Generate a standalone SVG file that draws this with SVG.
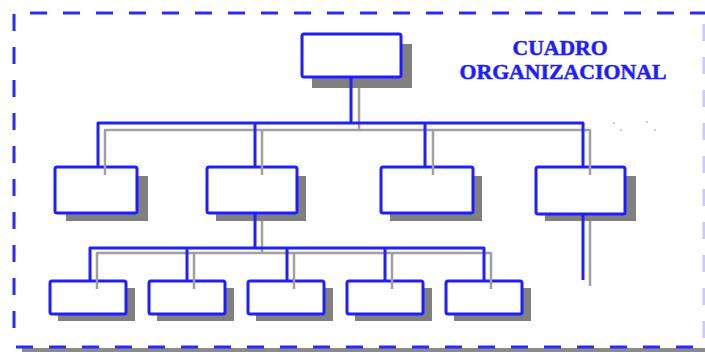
<svg xmlns="http://www.w3.org/2000/svg" width="705" height="356" viewBox="0 0 705 356">
  <style>
    .frame { fill: none; stroke: #2a2aff; stroke-width: 3; stroke-dasharray: 17 16; }
    .frame-shadow { fill: none; stroke: #8a8a8a; stroke-width: 4; }
    .box { fill: #ffffff; stroke: #1e1eff; stroke-width: 3; }
    .shadow { fill: #808080; }
    .link { fill: none; stroke: #2020ff; stroke-width: 3; stroke-linejoin: round; }
    .link-shadow { fill: none; stroke: #a0a0a0; stroke-width: 2.5; stroke-linejoin: round; }
    .title { font-family: "Liberation Serif", "Times New Roman", serif; font-weight: bold; font-size: 21px; fill: #1e1eff; stroke: #1e1eff; stroke-width: 0.5; text-anchor: middle; }
  </style>

  <!-- dashed frame -->
  <line class="frame-shadow" x1="22" y1="350" x2="705" y2="350"/>
  <line class="frame" x1="30" y1="13" x2="705" y2="13"/>
  <line class="frame" x1="14" y1="14" x2="14" y2="340"/>
  <line class="frame" x1="16" y1="347" x2="705" y2="347"/>
  <line class="frame" x1="704" y1="24" x2="704" y2="340" stroke-opacity="0.25"/>

  <!-- title -->
  <g id="title">
    <text class="title" x="560" y="55" textLength="95" lengthAdjust="spacingAndGlyphs">CUADRO</text>
    <text class="title" x="563" y="79" textLength="207" lengthAdjust="spacingAndGlyphs">ORGANIZACIONAL</text>
  </g>

  <!-- box shadows -->
  <g id="shadows">
    <rect class="shadow" x="312" y="44" width="100" height="44"/>
    <rect class="shadow" x="66" y="176" width="82" height="45"/>
    <rect class="shadow" x="216" y="176" width="90" height="45"/>
    <rect class="shadow" x="390" y="176" width="92" height="45"/>
    <rect class="shadow" x="545" y="176" width="91" height="45"/>
    <rect class="shadow" x="58" y="288" width="77" height="33"/>
    <rect class="shadow" x="157" y="288" width="77" height="33"/>
    <rect class="shadow" x="256" y="288" width="77" height="33"/>
    <rect class="shadow" x="355" y="288" width="77" height="33"/>
    <rect class="shadow" x="454" y="288" width="77" height="33"/>
  </g>

  <!-- nodes -->
  <g id="top">
    <rect class="box" x="302" y="34" width="99" height="43" rx="2"/>
  </g>
  <g id="unit-1">
    <rect class="box" x="55" y="167" width="82" height="46" rx="2"/>
  </g>
  <g id="unit-2">
    <rect class="box" x="207" y="167" width="90" height="46" rx="2"/>
  </g>
  <g id="unit-3">
    <rect class="box" x="381" y="167" width="92" height="46" rx="2"/>
  </g>
  <g id="unit-4">
    <rect class="box" x="536" y="167" width="89" height="47" rx="2"/>
  </g>
  <g id="sub-1">
    <rect class="box" x="50" y="281" width="76" height="33" rx="2"/>
  </g>
  <g id="sub-2">
    <rect class="box" x="149" y="281" width="76" height="33" rx="2"/>
  </g>
  <g id="sub-3">
    <rect class="box" x="248" y="281" width="76" height="33" rx="2"/>
  </g>
  <g id="sub-4">
    <rect class="box" x="347" y="281" width="76" height="33" rx="2"/>
  </g>
  <g id="sub-5">
    <rect class="box" x="446" y="281" width="76" height="33" rx="2"/>
  </g>

  <!-- connectors -->
  <g id="connectors">
    <!-- shadow lines -->
    <path class="link-shadow" d="M359 88 V130 M105 175 V130 H590 V175 M262 130 V175 M433 130 V175"/>
    <path class="link-shadow" d="M590 221 V286"/>
    <path class="link-shadow" d="M262 221 V253 M97 289 V253 H491 V289 M194 253 V289 M294 253 V289 M392 253 V289"/>
    <!-- main lines -->
    <path class="link" d="M351 77 V123 M98 167 V123 H583 V167 M255 123 V167 M425 123 V167"/>
    <path class="link" d="M583 214 V280"/>
    <path class="link" d="M255 213 V248 M90 281 V248 H484 V281 M187 248 V281 M287 248 V281 M385 248 V281"/>
  </g>

  <!-- specks -->
  <g fill="#9a9aff" opacity="0.6">
    <rect x="613" y="122" width="2" height="2"/>
    <rect x="646" y="121" width="2" height="2"/>
  </g>
  <g fill="#b0b0b0" opacity="0.6">
    <rect x="620" y="129" width="2" height="2"/>
    <rect x="654" y="129" width="2" height="2"/>
  </g>
</svg>
